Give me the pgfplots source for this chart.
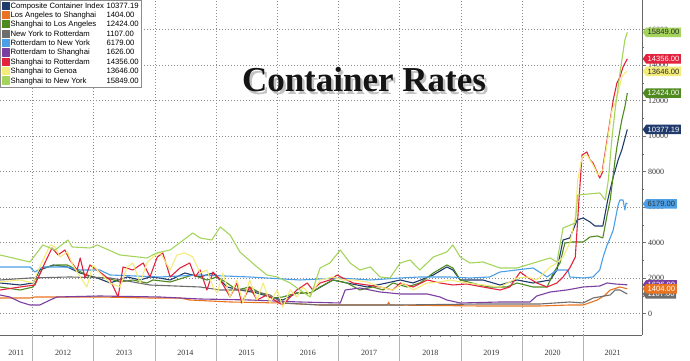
\documentclass[border=0pt]{standalone}
\usepackage{fontspec}
\setmainfont{Liberation Serif}
\newfontfamily\legendfont{Liberation Sans}
\usepackage{pgfplots}
\pgfplotsset{compat=1.18}
\usetikzlibrary{shapes.symbols}
\definecolor{cComp}{HTML}{1F3A6B}
\definecolor{cLAS}{HTML}{E9731F}
\definecolor{cSLA}{HTML}{4F8A1F}
\definecolor{cNYR}{HTML}{6D6D6D}
\definecolor{cRNY}{HTML}{4B9FE6}
\definecolor{cRSH}{HTML}{7A3FA0}
\definecolor{cSRT}{HTML}{E3233E}
\definecolor{cSGE}{HTML}{F4EC7A}
\definecolor{cSNY}{HTML}{A5D45C}
\begin{document}
\begin{tikzpicture}
\useasboundingbox (0pt,0pt) rectangle (690pt,361pt);
\begin{axis}[
  at={(0pt,26pt)}, anchor=south west, scale only axis,
  width=642pt, height=335pt,
  xmin=2011.47, xmax=2021.96, ymin=-1200, ymax=17670,
  axis x line*=bottom, axis y line*=right,
  axis line style={draw=black!60, line width=0.6pt, -},
  xtick={2012,2013,2014,2015,2016,2017,2018,2019,2020,2021},
  xticklabels={},
  minor x tick num=5,
  extra x ticks={2011.735,2012.5,2013.5,2014.5,2015.5,2016.5,2017.5,2018.5,2019.5,2020.5,2021.48},
  extra x tick labels={2011,2012,2013,2014,2015,2016,2017,2018,2019,2020,2021},
  extra x tick style={grid=none, tick style={draw=none}},
  ytick={0,2000,...,16000}, minor y tick num=1,
  scaled y ticks=false,
  tick align=outside, major tick length=3.5pt, minor tick length=2pt,
  tick style={draw=black!55, line width=0.5pt},
  grid=major,
  major grid style={draw=black!45, line width=0.6pt, dash pattern=on 0.8pt off 2.2pt},
  xticklabel style={font=\fontsize{8}{9}\selectfont, text=black!80, yshift=-8pt},
  yticklabel style={font=\fontsize{8}{9}\selectfont, text=black!80, xshift=-1pt},
  /pgf/number format/assume math mode=true, /pgf/number format/1000 sep={},
  clip=false,
  every axis plot/.append style={line width=1.1pt, line join=round},
  legend image code/.code={\fill[#1] (0pt,-3pt) rectangle (7pt,4pt);},
  legend cell align=left,
  legend style={at={(0,1)}, anchor=north west, draw=black!45, fill=white,
    font=\legendfont\fontsize{7.7}{8.5}\selectfont, inner xsep=1.5pt, inner ysep=1.5pt,
    row sep=0.4pt, nodes={inner sep=0.8pt, text height=5.6pt, text depth=1.6pt}},
]
\pgfplotsinvokeforeach{2012,2013,2014,2015,2016,2017,2018,2019,2020,2021}{
  \draw[black!30, line width=0.5pt] (axis cs:#1,-1200) -- ([yshift=-26pt]axis cs:#1,-1200);
}
% Composite Container Index
\addplot[color=cComp] table {
2011.47 1730
2011.80 1617
2012.01 1730
2012.12 2462
2012.34 2744
2012.57 2631
2012.78 2293
2013.06 2011
2013.27 1730
2013.55 2068
2013.76 1899
2013.92 2068
2014.08 2011
2014.25 1899
2014.49 2293
2014.74 2068
2014.95 2293
2015.18 1504
2015.39 1335
2015.67 1166
2015.88 941
2016.09 772
2016.32 1166
2016.54 1166
2016.91 1899
2017.14 1730
2017.47 1504
2017.79 1730
2018.01 1899
2018.22 1730
2018.55 2180
2018.77 2631
2018.87 2462
2018.99 1899
2019.36 1899
2019.64 1617
2019.92 1899
2020.18 1730
2020.46 1899
2020.57 2462
2020.67 4152
2020.78 4265
2020.90 5279
2021.00 5391
2021.11 5166
2021.19 4941
2021.32 4941
2021.40 6406
2021.49 7702
2021.57 8660
2021.63 9223
2021.72 10377
};
\addlegendentry{\makebox[96pt][l]{Composite Container Index}10377.19}
% Los Angeles to Shanghai
\addplot[color=cLAS] table {
2011.47 885
2011.96 885
2012.04 941
2013.10 941
2013.92 885
2014.41 885
2014.57 772
2015.23 659
2016.05 603
2016.70 490
2017.80 490
2017.82 650
2017.84 490
2019.31 434
2020.29 434
2020.78 490
2021.00 490
2021.23 772
2021.36 1054
2021.44 1335
2021.60 1504
2021.72 1404
};
\addlegendentry{\makebox[96pt][l]{Los Angeles to Shanghai}1404.00}
% Shanghai to Los Angeles
\addplot[color=cSLA] table {
2011.47 1504
2011.80 1335
2012.01 1504
2012.07 1899
2012.17 2575
2012.40 2744
2012.57 2744
2012.73 2462
2012.94 2068
2013.22 2011
2013.43 1786
2013.64 1899
2013.87 1730
2013.97 1899
2014.25 1786
2014.46 2011
2014.62 2180
2014.85 1899
2015.02 2068
2015.18 1730
2015.34 1335
2015.55 1504
2015.72 1166
2015.93 885
2016.09 941
2016.32 1166
2016.54 1166
2016.70 1504
2016.91 1899
2017.14 1730
2017.35 1335
2017.56 1504
2017.73 1335
2017.89 1730
2018.12 1504
2018.33 1730
2018.55 2293
2018.77 2744
2018.87 2575
2018.99 1899
2019.31 1617
2019.47 1504
2019.75 1504
2019.92 1730
2020.18 1504
2020.41 1504
2020.51 2293
2020.62 2856
2020.70 3983
2020.83 4040
2021.00 4040
2021.11 4321
2021.23 4378
2021.32 4265
2021.39 5560
2021.44 6406
2021.52 8660
2021.55 9392
2021.60 10350
2021.63 10913
2021.68 11645
2021.72 12424
};
\addlegendentry{\makebox[96pt][l]{Shanghai to Los Angeles}12424.00}
% New York to Rotterdam
\addplot[color=cNYR] table {
2011.47 1899
2011.96 2011
2012.61 2068
2013.27 2011
2013.92 1617
2014.74 1504
2015.07 1335
2015.55 1335
2015.88 1054
2016.09 603
2016.70 490
2018.01 490
2019.31 546
2020.29 546
2020.78 659
2021.00 603
2021.16 885
2021.44 1054
2021.52 1335
2021.60 1335
2021.72 1107
};
\addlegendentry{\makebox[96pt][l]{New York to Rotterdam}1107.00}
% Rotterdam to New York
\addplot[color=cRNY] table {
2011.47 2631
2011.96 2631
2012.04 2349
2012.17 2631
2012.57 2631
2012.78 2462
2013.10 2462
2013.27 2180
2014.08 2068
2014.74 2180
2015.55 2068
2016.37 1899
2017.03 2011
2017.52 1899
2018.01 2011
2018.33 2068
2018.82 2068
2019.15 2011
2019.47 2068
2019.64 2349
2020.18 2575
2020.41 2068
2020.57 2462
2020.75 2462
2020.78 2068
2021.00 2011
2021.16 2068
2021.27 2462
2021.32 3138
2021.39 3871
2021.44 4265
2021.49 4716
2021.57 6124
2021.60 6406
2021.65 6406
2021.68 5842
2021.70 6237
2021.72 6179
};
\addlegendentry{\makebox[96pt][l]{Rotterdam to New York}6179.00}
% Rotterdam to Shanghai
\addplot[color=cRSH] table {
2011.47 1054
2011.63 941
2011.80 659
2011.96 490
2012.12 490
2012.29 772
2012.40 941
2013.10 997
2014.08 941
2014.74 828
2015.55 772
2016.37 659
2017.03 603
2017.11 1335
2017.35 1448
2017.68 1223
2018.01 1110
2018.45 1110
2018.66 941
2018.77 772
2018.99 603
2019.64 659
2020.13 659
2020.24 997
2020.46 1223
2020.73 1335
2021.00 1504
2021.27 1560
2021.39 1730
2021.52 1674
2021.72 1626
};
\addlegendentry{\makebox[96pt][l]{Rotterdam to Shanghai}1626.00}
% Shanghai to Rotterdam
\addplot[color=cSRT] table {
2011.47 1335
2011.80 1504
2012.04 1617
2012.21 2913
2012.32 3702
2012.42 3307
2012.53 3589
2012.61 3025
2012.73 2462
2012.78 3138
2012.86 2011
2012.94 2744
2013.10 2349
2013.27 1899
2013.40 941
2013.48 2631
2013.64 2462
2013.81 2856
2013.92 2068
2014.04 3194
2014.13 3420
2014.25 2068
2014.41 2575
2014.57 2856
2014.66 2068
2014.74 2462
2014.85 1335
2014.95 2349
2015.07 1899
2015.23 941
2015.34 1730
2015.42 603
2015.55 1504
2015.67 772
2015.83 1054
2016.00 659
2016.09 490
2016.32 1335
2016.49 1730
2016.58 1335
2016.70 1730
2016.86 1899
2016.98 2180
2017.07 2011
2017.24 1730
2017.47 1617
2017.68 1504
2017.89 1335
2018.01 1730
2018.22 1504
2018.45 1899
2018.66 1730
2018.87 1617
2019.10 1674
2019.36 1504
2019.64 1335
2019.80 1504
2019.97 2349
2020.08 2068
2020.24 1730
2020.41 1504
2020.57 1730
2020.67 2068
2020.78 2575
2020.87 3194
2020.93 6406
2020.98 8941
2021.06 9110
2021.11 8660
2021.16 8490
2021.23 7927
2021.27 7645
2021.31 7927
2021.32 8265
2021.39 9786
2021.44 10913
2021.49 12040
2021.55 12998
2021.60 13336
2021.65 13899
2021.72 14356
};
\addlegendentry{\makebox[96pt][l]{Shanghai to Rotterdam}14356.00}
% Shanghai to Genoa
\addplot[color=cSGE] table {
2011.47 1786
2011.80 1899
2012.01 1730
2012.12 2631
2012.29 3871
2012.37 3758
2012.45 3194
2012.57 3476
2012.66 2744
2012.78 2068
2012.89 1504
2012.99 2744
2013.10 2293
2013.27 1730
2013.43 1504
2013.55 2631
2013.64 2856
2013.76 1730
2013.87 2856
2013.97 3194
2014.08 3476
2014.25 2462
2014.36 3307
2014.49 3420
2014.62 3194
2014.74 2293
2014.85 2462
2014.95 1504
2015.02 1166
2015.11 2293
2015.23 941
2015.34 1899
2015.44 603
2015.55 1899
2015.67 772
2015.77 1730
2015.88 603
2016.00 1335
2016.09 377
2016.21 1335
2016.32 941
2016.42 1504
2016.54 1054
2016.70 1899
2016.91 2068
2017.07 1899
2017.24 1899
2017.47 1786
2017.68 1504
2017.89 1335
2018.06 1730
2018.22 1335
2018.45 1730
2018.66 1786
2018.82 1899
2019.10 1730
2019.36 1617
2019.64 1504
2019.92 2011
2020.08 2068
2020.24 1899
2020.46 2631
2020.57 2856
2020.67 3194
2020.78 3983
2020.87 5448
2020.91 7533
2020.98 8829
2021.06 8941
2021.16 8378
2021.24 7814
2021.32 8096
2021.39 9617
2021.47 11476
2021.52 11871
2021.57 12434
2021.63 13336
2021.68 13561
2021.72 13646
};
\addlegendentry{\makebox[96pt][l]{Shanghai to Genoa}13646.00}
% Shanghai to New York
\addplot[color=cSNY] table {
2011.47 3307
2011.96 2913
2012.17 3871
2012.37 3589
2012.58 4152
2012.65 3758
2012.94 3702
2013.06 3871
2013.43 3307
2013.87 3138
2014.03 3420
2014.25 3589
2014.62 4547
2014.74 4265
2014.93 4152
2015.07 4885
2015.23 4434
2015.39 3476
2015.67 2631
2015.83 2180
2016.00 2068
2016.21 1730
2016.37 1335
2016.54 941
2016.70 2575
2016.86 2856
2017.03 3589
2017.19 2856
2017.35 2462
2017.52 2631
2017.68 2068
2017.84 2011
2018.01 2856
2018.17 3025
2018.33 2462
2018.55 3194
2018.77 3476
2018.87 3871
2018.99 3194
2019.15 2856
2019.36 2913
2019.64 2575
2019.92 2575
2020.08 2744
2020.24 2913
2020.46 3138
2020.57 2913
2020.67 4828
2020.87 5110
2020.91 6688
2021.27 6800
2021.36 6406
2021.41 7533
2021.47 9955
2021.52 11476
2021.60 13561
2021.68 15420
2021.72 15849
};
\addlegendentry{\makebox[96pt][l]{Shanghai to New York}15849.00}
\end{axis}
% value tags on the right axis
\begin{scope}[tag/.style={signal, signal to=west, signal pointer angle=110, fill=#1, draw=none,
   inner xsep=1.6pt, inner ysep=1pt, minimum height=9.5pt, anchor=west,
   font=\legendfont\fontsize{7.6}{8}\selectfont}]
\node[tag=cSNY, text=black!85] at (642.5pt,328.7pt) {15849.00};
\node[tag=cSGE, text=black!85] at (642.5pt,289.6pt) {13646.00};
\node[tag=cSRT, text=white] at (642.5pt,302.2pt) {14356.00};
\node[tag=cSLA, text=white] at (642.5pt,267.9pt) {12424.00};
\node[tag=cComp, text=white] at (642.5pt,231.5pt) {10377.19};
\node[tag=cRNY, text=black!80] at (642.5pt,157.0pt) {6179.00};
\node[tag=cRSH, text=white] at (642.5pt,76.2pt) {1626.00};
\node[tag=cNYR, text=white] at (642.5pt,67.0pt) {1107.00};
\node[tag=cLAS, text=white] at (642.5pt,72.2pt) {1404.00};
\end{scope}
% title with soft shadow
\node[font=\bfseries\fontsize{35}{40}\selectfont, text=black!60, opacity=0.4, anchor=base] at (366.5pt,266pt) {Container Rates};
\node[font=\bfseries\fontsize{35}{40}\selectfont, text=black!92, anchor=base] at (364pt,269pt) {Container Rates};
\end{tikzpicture}
\end{document}
